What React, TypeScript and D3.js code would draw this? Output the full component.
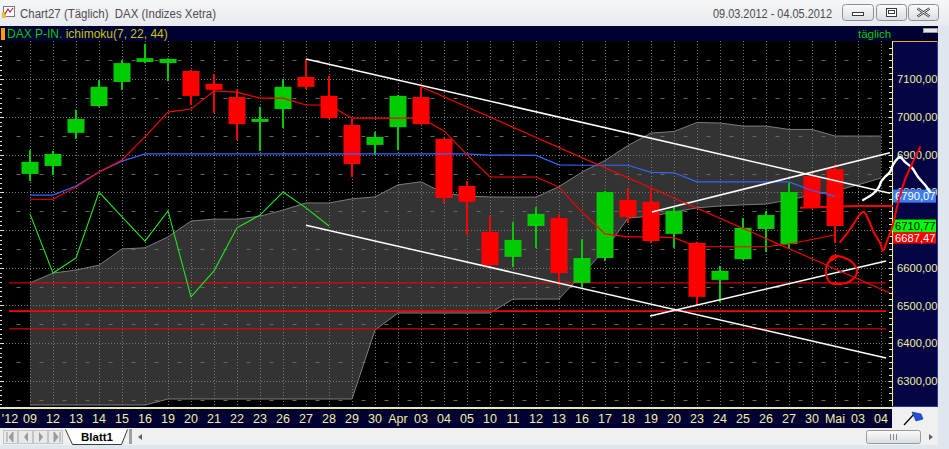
import React from "react";
import * as d3 from "d3";

// Trading days shown on the time axis (index 0 is the year marker)
const dateLabels = ["'12", "09", "12", "13", "14", "15", "16", "19", "20", "21", "22", "23", "26", "27", "28", "29", "30", "Apr", "03", "04", "05", "10", "11", "12", "13", "16", "17", "18", "19", "20", "23", "24", "25", "26", "27", "30", "Mai", "03", "04"];

// DAX daily candles, 09.03.2012 .. 02.05.2012 (indices 1..36)
const openVals = [6849, 6870, 6958, 7029, 7093, 7146, 7143, 7122, 7088, 7053, 6987, 7021, 7106, 7056, 6979, 6926, 6973, 7053, 6942, 6817, 6695, 6629, 6711, 6732, 6560, 6626, 6780, 6775, 6690, 6666, 6568, 6623, 6703, 6663, 6843, 6862];
const highVals = [6912, 6910, 7019, 7098, 7151, 7194, 7156, 7125, 7114, 7072, 7027, 7101, 7154, 7109, 6995, 6960, 7058, 7080, 6944, 6830, 6737, 6721, 6761, 6743, 6676, 6804, 6812, 6809, 6761, 6669, 6605, 6732, 6751, 6825, 6849, 6875];
const lowVals = [6830, 6846, 6942, 7027, 7072, 7143, 7095, 7032, 7011, 6939, 6910, 6971, 7074, 6995, 6841, 6899, 6912, 6980, 6772, 6687, 6605, 6602, 6653, 6552, 6549, 6618, 6719, 6666, 6653, 6501, 6509, 6621, 6642, 6653, 6757, 6666];
const closeVals = [6881, 6902, 6995, 7080, 7143, 7156, 7154, 7056, 7072, 6981, 6995, 7080, 7080, 6997, 6875, 6947, 7056, 6981, 6785, 6775, 6607, 6674, 6743, 6586, 6626, 6801, 6735, 6671, 6751, 6523, 6592, 6706, 6740, 6801, 6759, 6710.77];

// Ichimoku(7, 22, 44): conversion line and base line (indices 1..36)
const tenkanVals = [6782, 6782, 6814, 6854, 6886, 6947, 7013, 7021, 7069, 7066, 7050, 7050, 7032, 7032, 6997, 6997, 6997, 6997, 6963, 6900, 6841, 6841, 6841, 6814, 6748, 6690, 6682, 6682, 6680, 6656, 6656, 6656, 6656, 6663, 6675, 6687.47];
const kijunVals = [6793, 6793, 6817, 6854, 6883, 6902, 6902, 6902, 6902, 6902, 6902, 6902, 6902, 6902, 6902, 6902, 6902, 6902, 6902, 6902, 6899, 6899, 6898, 6873, 6872, 6872, 6872, 6853, 6852, 6828, 6828, 6828, 6828, 6828, 6805, 6790.07];
// Leading spans (cloud), indices 1..38
const spanAVals = [6560, 6586, 6594, 6607, 6650, 6653, 6682, 6724, 6729, 6729, 6737, 6753, 6772, 6772, 6783, 6788, 6820, 6828, 6798, 6790, 6788, 6787.5, 6787.5, 6815.5, 6854, 6884.5, 6924.5, 6957.5, 6961.5, 6985.5, 6984, 6976, 6976, 6967, 6967, 6949.5, 6949.5, 6949.5];
const spanBVals = [6236, 6236, 6236, 6236, 6236, 6236, 6252, 6252, 6252, 6252, 6252, 6252, 6252, 6252, 6252, 6435, 6480, 6480, 6480, 6480, 6480, 6517, 6517, 6517, 6583, 6647, 6732, 6737, 6748, 6759, 6764, 6767, 6769, 6780, 6793, 6804, 6820, 6838];
const chikouShift = 22;

const priceTicks = [6300, 6400, 6500, 6600, 6700, 6800, 6900, 7000, 7100];
const halfTicks = [6250, 6350, 6450, 6550, 6650, 6750, 6850, 6950, 7050, 7150];

// Horizontal support levels
const supportLevels = [6560, 6485, 6438];

// Drawn trend lines: [index, price] endpoints
const whiteTrends: [number, number][][] = [
  [[13, 7154], [38.39, 6798]],
  [[13, 6713], [38.22, 6361]],
  [[27.96, 6472], [38.22, 6618]],
  [[28.04, 6748], [38.39, 6905]],
];
const redTrend: [number, number][] = [[18, 7080], [38.39, 6533]];

// Freehand sketches: [index, price]
const whiteSketch: [number, number][] = [[37.22, 6780], [37.65, 6796], [37.91, 6814], [38.0, 6828], [38.17, 6841], [38.39, 6854], [38.52, 6873], [38.74, 6891], [38.83, 6894], [39.04, 6881], [39.35, 6865], [39.61, 6841], [39.91, 6820], [40.13, 6801]];
const redSketch: [number, number][] = [[36.22, 6668], [36.57, 6695], [36.87, 6722], [37.13, 6745], [37.26, 6748], [37.48, 6724], [37.7, 6692], [37.96, 6666], [38.09, 6645], [38.26, 6671], [38.48, 6706], [38.74, 6772], [39.04, 6833], [39.39, 6881], [39.7, 6920]];
const redCircle: [number, number][] = [[36.09, 6629], [35.7, 6613], [35.61, 6586], [35.78, 6562], [36.22, 6557], [36.74, 6568], [36.96, 6589], [36.78, 6613], [36.43, 6626], [35.91, 6631], [35.78, 6621]];
const redLevelSketch: [number, number][] = [[34.48, 6759], [35.78, 6762], [37.09, 6764], [38.52, 6764]];

const FONT = "'Liberation Sans', Arial, sans-serif";
const fmt = (v: number) => v.toFixed(2).replace(".", ",");

export default function App() {
  const P = { l: 0, r: 892, t: 41, b: 407 };
  const x = d3.scaleLinear().domain([0, 38]).range([7, 881]);
  const y = d3.scaleLinear().domain([6300, 7100]).range([380.9, 79.3]);

  const seriesLine = d3.line<number>().x((_, k) => x(k + 1)).y((v) => y(v));
  const ptLine = d3.line<[number, number]>().x((p) => x(p[0])).y((p) => y(p[1]));
  const smooth = d3.line<[number, number]>().x((p) => x(p[0])).y((p) => y(p[1])).curve(d3.curveCatmullRom.alpha(0.5));
  const closedSmooth = d3.line<[number, number]>().x((p) => x(p[0])).y((p) => y(p[1])).curve(d3.curveCatmullRomClosed.alpha(0.5));
  const cloud = d3.area<number>().x((_, k) => x(k + 1)).y0((_, k) => y(spanBVals[k])).y1((v) => y(v));

  const chikou = closeVals.slice(chikouShift);
  const last = closeVals.length - 1;

  // value boxes on the price axis
  const kijunBoxY = y(kijunVals[last]) - 6.5;
  const closeBoxY = y(closeVals[last]) - 6.5;
  const tenkanBoxY = closeBoxY + 12; // stacked right under the close box
  const boxTop = closeBoxY;
  const boxBottom = tenkanBoxY + 12;
  // a price label fully covered by the stacked boxes is left out
  const labelVisible = (v: number) => !(y(v) - 5.5 >= boxTop && y(v) + 5.5 <= boxBottom);

  // axis minor ticks
  const axisMinor: number[] = d3.range(6250, 7200, 100 / 6);
  const leftMinor: number[] = d3.range(6237.5, 7200, 12.5);

  return (
    <div style={{ position: "fixed", left: 0, top: 0, width: 949, height: 449 }}>
      <svg width={949} height={449} style={{ display: "block" }} fontFamily={FONT}>
        <defs>
          <linearGradient id="titleGrad" x1="0" y1="0" x2="0" y2="1">
            <stop offset="0" stopColor="#f6f7f9" />
            <stop offset="1" stopColor="#e7eaee" />
          </linearGradient>
          <linearGradient id="btnGrad" x1="0" y1="0" x2="0" y2="1">
            <stop offset="0" stopColor="#fbfbfb" />
            <stop offset="1" stopColor="#dadde1" />
          </linearGradient>
          <clipPath id="plotClip">
            <rect x={P.l} y={P.t} width={P.r - P.l} height={P.b - P.t} />
          </clipPath>
        </defs>

        {/* window frame */}
        <rect x={0} y={0} width={949} height={449} fill="#dfe6ee" />
        <rect x={0} y={0} width={949} height={26} fill="url(#titleGrad)" />
        {/* title icon */}
        <g>
          <rect x={3.5} y={6.5} width={11} height={10} fill="#ffffff" stroke="#7a7a7a" />
          <rect x={2} y={12} width={4} height={6} fill="#e8c040" />
          <polyline points="5,14 8,9 10,12 13,8" fill="none" stroke="#d02020" strokeWidth={1.2} />
        </g>
        <text x={20} y={18} fontSize={12.5} fill="#4d4d4d" textLength={196} lengthAdjust="spacingAndGlyphs" style={{ whiteSpace: "pre" }}>
          Chart27 (Täglich)  DAX (Indizes Xetra)
        </text>
        <text x={713} y={18} fontSize={12.5} fill="#4d4d4d" textLength={119} lengthAdjust="spacingAndGlyphs">
          09.03.2012 - 04.05.2012
        </text>
        {/* window buttons */}
        <g stroke="#8b8f96" fill="url(#btnGrad)">
          <rect x={842.5} y={4.5} width={31} height={16} rx={3} />
          <rect x={876.5} y={4.5} width={30} height={16} rx={3} />
          <rect x={908.5} y={4.5} width={30} height={16} rx={3} />
        </g>
        <rect x={852.5} y={12.5} width={11} height={3} fill="#ffffff" stroke="#3a3a3a" />
        <rect x={886.5} y={8.5} width={10} height={8} fill="#ffffff" stroke="#3a3a3a" />
        <rect x={888.5} y={10.5} width={6} height={3} fill="#ffffff" stroke="#3a3a3a" />
        <path d="M917.5,8.5 L929.5,16.5 M929.5,8.5 L917.5,16.5" stroke="#3a3a3a" strokeWidth={2.4} />
        <path d="M917.5,8.5 L929.5,16.5 M929.5,8.5 L917.5,16.5" stroke="#ffffff" strokeWidth={0.9} />

        {/* legend bar */}
        <rect x={0} y={26} width={938} height={15} fill="#000033" />
        <rect x={1} y={28} width={4} height={12} fill="#ff9a00" />
        <text x={7} y={38} fontSize={12} style={{ whiteSpace: "pre" }}>
          <tspan fill="#00c800">DAX P-IN.</tspan>
          <tspan fill="#c8c800"> ichimoku(7, 22, 44)</tspan>
        </text>
        <text x={858} y={38} fontSize={11.5} fill="#00c800">täglich</text>
        <rect x={923.5} y={28.5} width={14} height={4} fill="#e6e6e6" stroke="#9a9a9a" />

        {/* plot background */}
        <rect x={P.l} y={P.t} width={P.r - P.l} height={P.b - P.t} fill="#000000" />

        <g clipPath="url(#plotClip)">
          {/* ichimoku cloud */}
          <path d={cloud(spanAVals) ?? ""} fill="#333333" />
          <path d={seriesLine(spanAVals) ?? ""} fill="none" stroke="#7c7c7c" strokeWidth={1} />
          <path d={seriesLine(spanBVals) ?? ""} fill="none" stroke="#7c7c7c" strokeWidth={1} />

          {/* grid */}
          {d3.range(1, 39).map((i) => (
            <line key={"gv" + i} x1={x(i) + 0.5} x2={x(i) + 0.5} y1={P.t} y2={P.b} stroke="#777777" strokeDasharray="1 2" />
          ))}
          {priceTicks.map((v) => (
            <line key={"gh" + v} x1={P.l} x2={P.r} y1={Math.round(y(v)) + 0.5} y2={Math.round(y(v)) + 0.5} stroke="#777777" strokeDasharray="1 2" />
          ))}
          {halfTicks.map((v) =>
            d3.range(0, 38).map((i) => (
              <line key={"gm" + v + "_" + i} x1={x(i + 0.5) - 2} x2={x(i + 0.5) + 2} y1={Math.round(y(v)) + 0.5} y2={Math.round(y(v)) + 0.5} stroke="#666666" />
            ))
          )}
          {leftMinor.map((v, k) => (
            <line key={"lt" + k} x1={0} x2={v % 100 === 0 ? 4 : 2} y1={Math.round(y(v)) + 0.5} y2={Math.round(y(v)) + 0.5} stroke="#dddddd" />
          ))}

          {/* support levels */}
          {supportLevels.map((v, k) => (
            <line key={"sl" + v} x1={9} x2={886} y1={y(v)} y2={y(v)} stroke="#ff0000" strokeWidth={k === 1 ? 1.6 : 1} />
          ))}

          {/* candles */}
          {closeVals.map((c, k) => {
            const o = openVals[k];
            const up = c >= o;
            const cx = x(k + 1);
            const col = up ? "#00cc00" : "#ff0000";
            const top = y(Math.max(o, c));
            const bot = y(Math.min(o, c));
            return (
              <g key={"c" + k}>
                <rect x={cx - 1} y={y(highVals[k])} width={2} height={y(lowVals[k]) - y(highVals[k])} fill={col} />
                <rect x={cx - 8.5} y={top} width={17} height={Math.max(2, bot - top)} fill={col} />
              </g>
            );
          })}

          {/* ichimoku lines */}
          <path d={seriesLine(kijunVals) ?? ""} fill="none" stroke="#3366ff" strokeWidth={1.2} />
          <path d={seriesLine(tenkanVals) ?? ""} fill="none" stroke="#ff0000" strokeWidth={1.1} />
          <path d={seriesLine(chikou) ?? ""} fill="none" stroke="#22e622" strokeWidth={1.1} />

          {/* trend lines */}
          {whiteTrends.map((t, k) => (
            <path key={"wt" + k} d={ptLine(t) ?? ""} stroke="#ffffff" strokeWidth={1.5} fill="none" />
          ))}
          <path d={ptLine(redTrend) ?? ""} stroke="#ff0000" strokeWidth={1.1} fill="none" />
        </g>

        {/* time axis */}
        <rect x={0} y={408} width={P.r} height={20} fill="#000033" />
        <line x1={0} x2={P.r} y1={408.5} y2={408.5} stroke="#f0f070" />
        {dateLabels.map((d, i) => (
          <text key={"d" + i} x={i === 0 ? 10 : x(i)} y={423} fontSize={12.5} fill="#f2f0a0" textAnchor="middle">
            {d}
          </text>
        ))}

        {/* price axis */}
        <rect x={892} y={41} width={46} height={366} fill="#050545" />
        <line x1={892} x2={937} y1={41.5} y2={41.5} stroke="#e8b400" />
        <line x1={892.5} x2={892.5} y1={41} y2={407} stroke="#f0f080" />
        <line x1={937.5} x2={937.5} y1={41} y2={407} stroke="#2a3a9a" />
        <line x1={892} x2={938} y1={406.5} y2={406.5} stroke="#2a3a9a" />
        {axisMinor.map((v, k) => (
          <line key={"at" + k} x1={889} x2={892} y1={Math.round(y(v)) + 0.5} y2={Math.round(y(v)) + 0.5} stroke="#f0f080" />
        ))}
        {priceTicks.filter(labelVisible).map((v) => (
          <text key={"pl" + v} x={897} y={y(v) + 4} fontSize={11.2} fill="#eeee9a">
            {fmt(v)}
          </text>
        ))}
        {/* current values: base line, conversion line, last close */}
        <rect x={893} y={kijunBoxY} width={43} height={13} fill="#3c7cf0" />
        <text x={895} y={kijunBoxY + 10.5} fontSize={11.2} fill="#ffffff">{fmt(kijunVals[last])}</text>
        <rect x={893} y={tenkanBoxY} width={43} height={12} fill="#ff0000" />
        <text x={895} y={tenkanBoxY + 10.5} fontSize={11.2} fill="#ffffff">{fmt(tenkanVals[last])}</text>
        <rect x={893} y={closeBoxY} width={43} height={12.5} fill="#00ff00" />
        <text x={895} y={closeBoxY + 10} fontSize={11.2} fill="#000000">{fmt(closeVals[last])}</text>

        {/* corner below price axis */}
        <rect x={892} y={407} width={46} height={21} fill="#f0f0f0" />
        <line x1={904} y1={425} x2={915} y2={413} stroke="#000000" strokeWidth={1.2} />
        <polygon points="912,412 921,414 923,419 916,421" fill="#1f4fe0" stroke="#102880" strokeWidth={0.6} />

        {/* sheet tab bar */}
        <rect x={0} y={428} width={938} height={17} fill="#f0f0f0" />
        {[0, 1, 2, 3].map((k) => (
          <rect key={"nb" + k} x={3.5 + k * 15} y={430.5} width={14} height={13} fill="#e9e9e9" stroke="#c4c4c4" />
        ))}
        <path d="M7,432 V442 M13,432 L9,437 L13,442 Z" stroke="#9a9a9a" fill="#9a9a9a" />
        <path d="M28,432 L24,437 L28,442 Z" fill="#9a9a9a" />
        <path d="M39,432 L43,437 L39,442 Z" fill="#9a9a9a" />
        <path d="M54,432 L58,437 L54,442 Z M60,432 V442" stroke="#9a9a9a" fill="#9a9a9a" />
        <path d="M65.5,429.5 L72.5,444.5 L121.5,444.5 L127.5,429.5" fill="#ffffff" stroke="#3a3a3a" />
        <text x={97} y={441} fontSize={11.5} fontWeight="bold" fill="#000000" textAnchor="middle">Blatt1</text>
        <rect x={129} y={429} width={3} height={15} fill="#a0a0a0" />
        <path d="M142,434 L138,437 L142,440 Z" fill="#606060" />
        <rect x={866.5} y={430.5} width={54} height={13} rx={2} fill="url(#btnGrad)" stroke="#9a9a9a" />
        <path d="M890.5,434 V440 M893.5,434 V440 M896.5,434 V440" stroke="#8a8a8a" />
        <path d="M929,434 L933,437 L929,440 Z" fill="#606060" />

        {/* freehand marks */}
        <path d={smooth(whiteSketch) ?? ""} fill="none" stroke="#ffffff" strokeWidth={2.4} strokeLinecap="round" strokeLinejoin="round" />
        <path d={smooth(redSketch) ?? ""} fill="none" stroke="#ff0000" strokeWidth={2} strokeLinecap="round" strokeLinejoin="round" />
        <path d={closedSmooth(redCircle) ?? ""} fill="none" stroke="#ff0000" strokeWidth={2} />
        <path d={smooth(redLevelSketch) ?? ""} fill="none" stroke="#ff0000" strokeWidth={2} />
      </svg>
    </div>
  );
}
